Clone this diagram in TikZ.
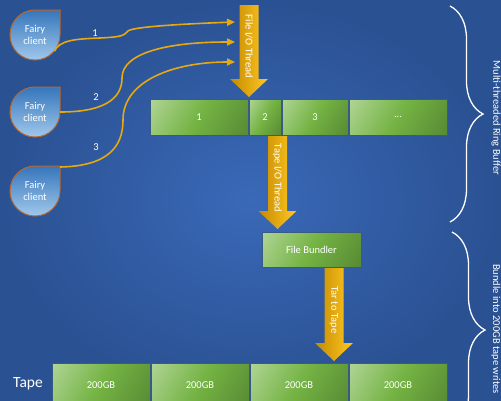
\documentclass[tikz,border=0pt]{standalone}
\usepackage{fontspec}
\setmainfont{Carlito}
\usetikzlibrary{positioning,arrows.meta,decorations.pathreplacing}
\definecolor{bgin}{HTML}{3A69B8}
\definecolor{bgout}{HTML}{2A5192}
\definecolor{golddark}{HTML}{C68A00}
\definecolor{goldlight}{HTML}{FFC823}
\definecolor{goldline}{HTML}{E6A90F}
\definecolor{greenlight}{HTML}{CBE4BA}
\definecolor{greenmid}{HTML}{74B343}
\definecolor{greendark}{HTML}{4A772D}
\definecolor{celledge}{HTML}{3A5A86}
\definecolor{clienttop}{HTML}{3676BB}
\definecolor{clientbottom}{HTML}{A0C8EC}
\definecolor{clientedge}{HTML}{B8672E}

\pgfdeclarehorizontalshading{cellshade}{100bp}{color(0bp)=(greenlight); color(50bp)=(greenmid); color(100bp)=(greendark)}

\newcommand\labelfont{\fontsize{10.5}{12.5}\selectfont}

\tikzset{
  cell/.style={draw=celledge, line width=0.8pt, shade, shading=cellshade, shading angle=-30,
    minimum height=36pt, inner sep=0pt, outer sep=0pt, text=white, font=\labelfont},
  clientshape/.style={draw=clientedge, line width=1pt, top color=clienttop, bottom color=clientbottom},
  clienttext/.style={circle, minimum size=50pt, inner sep=0pt, align=center, text=white, font=\labelfont},
  flow/.style={draw=goldline, line width=1.6pt, -{Triangle[length=8pt,width=7pt]}},
  numlabel/.style={text=white, font=\labelfont, inner sep=1pt},
  arrowtext/.style={text=white, font=\labelfont, inner sep=0pt},
  bracemark/.style={draw=white, line width=1.3pt, decorate, decoration={brace, amplitude=33pt}},
  sidelabel/.style={text=white, font=\labelfont, rotate=-90}
}

% name, x, top, apex, text
\newcommand\blockarrow[5]{%
  \shade[left color=golddark, right color=goldlight]
    (#2-9.5,#3) -- (#2+9.5,#3) -- (#2+9.5,#4-18) -- (#2+19,#4-18) -- (#2,#4)
    -- (#2-19,#4-18) -- (#2-9.5,#4-18) -- cycle;
  \node[arrowtext, rotate=-90] (#1) at (#2,{(#3+#4-9)/2}) {#5};
}

% name, y
\newcommand\fairyclient[2]{%
  \draw[clientshape] (35,#2-25) -- (60,#2-25) -- (60,#2)
    arc[start angle=0, end angle=-270, radius=25pt] -- cycle;
  \node[clienttext] (#1) at (35,#2) {Fairy\\client};
}

\begin{document}
\begin{tikzpicture}[x=1pt,y=-1pt]
  \useasboundingbox (0,0) rectangle (501,400);
  \shade[inner color=bgin, outer color=bgout] (0,0) rectangle (501,400);

  % clients
  \fairyclient{c1}{35}
  \fairyclient{c2}{112}
  \fairyclient{c3}{191}

  % flows into the file thread
  \coordinate (in1) at (235,22);
  \coordinate (in2) at (235,42);
  \coordinate (in3) at (235,62);
  \draw[flow] (c1.-40) .. controls (60,40) and (75,39) .. (100,38)
    .. controls (120,37) and (124,36) .. (128,31)
    .. controls (132,27) and (180,24) .. (in1);
  \draw[flow] (c2.east) .. controls (110,112) and (122,95) .. (122,78)
    .. controls (122,52) and (170,42) .. (in2);
  \draw[flow] ([yshift=24pt]c3.east) .. controls (110,166) and (123,145) .. (123,120)
    .. controls (123,80) and (175,62) .. (in3);
  \node[numlabel] (n1) at (95,33) {1};
  \node[numlabel] (n2) at (96,97) {2};
  \node[numlabel] (n3) at (96,147) {3};

  % threads
  \blockarrow{fio}{249}{5}{97}{File I/O Thread}
  \blockarrow{tio}{277.5}{136}{229}{Tape I/O Thread}
  \blockarrow{tar}{334}{268}{361}{Tar to Tape}

  % ring buffer
  \node[cell, minimum width=98pt, anchor=west] (r1) at (150,117) {1};
  \node[cell, minimum width=32pt, right=1pt of r1] (r2) {2};
  \node[cell, minimum width=66pt, right=1pt of r2] (r3) {3};
  \node[cell, minimum width=98pt, right=1pt of r3] (r4) {...};

  \node[cell, minimum width=99pt, minimum height=35pt] (fb) at (311.5,249.5) {File Bundler};

  % tape
  \node[text=white, font=\fontsize{15.5}{18}\selectfont] (tape) at (28,384) {Tape};
  \node[cell, minimum width=98pt, minimum height=44pt, anchor=west] (t1) at (52,385) {200GB};
  \node[cell, minimum width=98pt, minimum height=44pt, right=1pt of t1] (t2) {200GB};
  \node[cell, minimum width=98pt, minimum height=44pt, right=1pt of t2] (t3) {200GB};
  \node[cell, minimum width=98pt, minimum height=44pt, right=1pt of t3] (t4) {200GB};

  % braces
  \draw[bracemark] (450,6) -- (450,222);
  \draw[bracemark] (452,232) -- (452,428);
  \node[sidelabel] (ring) at (496,118) {Multi-threaded Ring Buffer};
  \node[sidelabel] (bundle) at (496,329) {Bundle into 200GB tape writes};
\end{tikzpicture}
\end{document}
